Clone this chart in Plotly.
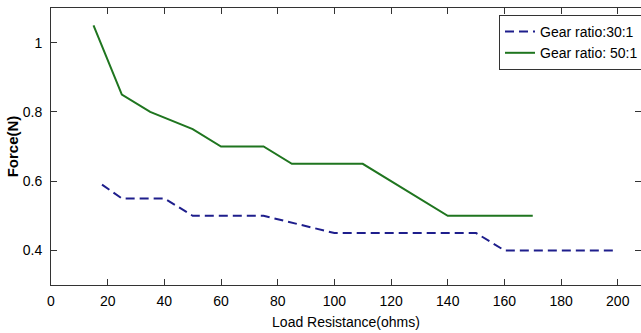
import plotly.graph_objects as go

# Data
x_30 = [18, 25, 40, 50, 75, 100, 150, 160, 200]
y_30 = [0.59, 0.55, 0.55, 0.50, 0.50, 0.45, 0.45, 0.40, 0.40]
x_50 = [15, 25, 35, 50, 60, 75, 85, 110, 140, 170]
y_50 = [1.05, 0.85, 0.80, 0.75, 0.70, 0.70, 0.65, 0.65, 0.50, 0.50]
x_ticks = [0, 20, 40, 60, 80, 100, 120, 140, 160, 180, 200]
y_ticks = [0.4, 0.6, 0.8, 1.0]
y_tick_labels = ["0.4", "0.6", "0.8", "1"]

FONT = "Liberation Sans, Arial, sans-serif"

fig = go.Figure()
fig.add_trace(go.Scatter(x=x_30, y=y_30, mode="lines", name="Gear ratio:30:1",
                         line=dict(color="#1e1e8c", width=2, dash="9px,5px")))
fig.add_trace(go.Scatter(x=x_50, y=y_50, mode="lines", name="Gear ratio: 50:1",
                         line=dict(color="#1f751f", width=2)))
# right-side ticks only (no right border, it is cropped off)
fig.add_trace(go.Scatter(x=[None], y=[None], yaxis="y2", showlegend=False, hoverinfo="skip"))

fig.update_layout(
    width=641, height=333,
    margin=dict(l=51, r=0, t=8, b=48, autoexpand=False),
    paper_bgcolor="white", plot_bgcolor="white",
    font=dict(family=FONT, size=14, color="black"),
    showlegend=True,
    legend=dict(x=(499 - 51) / 590, y=(285 - 15) / 277, xanchor="left", yanchor="top",
                bgcolor="white", bordercolor="#333333", borderwidth=1,
                font=dict(family=FONT, size=14, color="black"),
                entrywidth=140, tracegroupgap=0),
    xaxis=dict(range=[0, 208.2], tickvals=x_ticks, ticks="inside", ticklen=6,
               tickcolor="#333333", showline=True, linecolor="#333333", linewidth=1,
               mirror="ticks", showgrid=False, zeroline=False, automargin=False,
               ticklabelstandoff=3,
               title=dict(text="Load Resistance(ohms)", standoff=9,
                          font=dict(family=FONT, size=14)),
               tickfont=dict(family=FONT, size=14)),
    yaxis=dict(range=[0.3, 1.1], tickvals=y_ticks, ticktext=y_tick_labels,
               ticks="inside", ticklen=6, tickcolor="#333333",
               showline=True, linecolor="#333333", linewidth=1, automargin=False,
               showgrid=False, zeroline=False, ticklabelstandoff=5,
               title=dict(text="<b>Force(N)</b>", standoff=0,
                          font=dict(family=FONT, size=15)),
               tickfont=dict(family=FONT, size=14)),
    yaxis2=dict(range=[0.3, 1.1], tickvals=y_ticks, overlaying="y", side="right",
                ticks="inside", ticklen=6, tickcolor="#333333", showticklabels=False,
                showline=False, showgrid=False, zeroline=False, automargin=False),
)

fig.write_html("out.html")
